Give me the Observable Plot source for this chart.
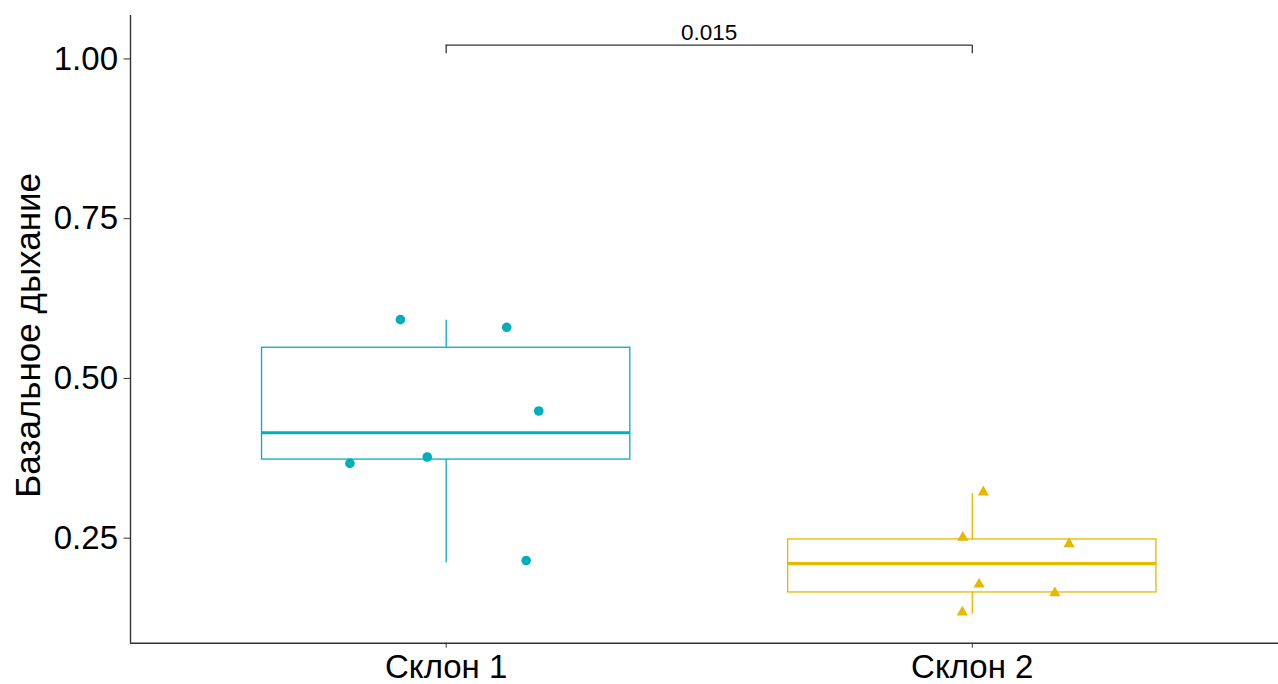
<!DOCTYPE html>
<html>
<head>
<meta charset="utf-8">
<script src="https://cdn.jsdelivr.net/npm/d3@7"></script>
<script src="https://cdn.jsdelivr.net/npm/@observablehq/plot@0.6"></script>
<style>
  html, body { margin: 0; padding: 0; background: #fff; }
  svg { display: block; }
</style>
</head>
<body>
<div id="chart"></div>
<script>
// ---- data ----
const groups = ["Склон 1", "Склон 2"];
const groupColors = ["#00AFBB", "#E7B800"];
const groupSymbols = ["circle", "triangle"];

// raw observations (values) and their horizontal jitter (in category units)
const slope1Values = [0.592, 0.580, 0.449, 0.377, 0.367, 0.215];
const slope1Jitter = [-0.087, 0.115, 0.176, -0.036, -0.183, 0.152];
const slope2Values = [0.322, 0.251, 0.241, 0.178, 0.164, 0.134];
const slope2Jitter = [0.021, -0.018, 0.184, 0.013, 0.157, -0.019];

// box statistics
const boxLower  = [0.211, 0.131];
const boxQ1     = [0.373, 0.165];
const boxMedian = [0.415, 0.210];
const boxQ3     = [0.548, 0.248];
const boxUpper  = [0.591, 0.320];

const yTicks = [0.25, 0.50, 0.75, 1.00];
const pValueLabel = "0.015";
const yTitle = "Базальное дыхание";

// ---- derived tables ----
const points = [
  ...slope1Values.map((v, i) => ({g: 0, x: 1 + slope1Jitter[i], y: v})),
  ...slope2Values.map((v, i) => ({g: 1, x: 2 + slope2Jitter[i], y: v}))
];
const boxes = groups.map((name, i) => ({
  g: i, x: i + 1, lo: boxLower[i], q1: boxQ1[i], med: boxMedian[i], q3: boxQ3[i], hi: boxUpper[i]
}));

const halfWidth = 0.35;
const xDomain = [0.4, 2.582];
const yDomain = [0.0856, 1.068];
const bracketY = 1.0216, bracketTickY = 1.008, pLabelY = 1.030;
const axisColor = "#333333";
const font = "'Liberation Sans', Arial, sans-serif";

const chart = Plot.plot({
  width: 1278,
  height: 684,
  marginLeft: 130,
  marginRight: 0,
  marginTop: 15,
  marginBottom: 41.3,
  style: {fontFamily: font, background: "#fff", color: "#000"},
  x: {type: "linear", domain: xDomain},
  y: {type: "linear", domain: yDomain},
  marks: [
    // whiskers
    Plot.ruleX(boxes, {x: "x", y1: "lo", y2: "q1", stroke: d => groupColors[d.g], strokeWidth: 1.3}),
    Plot.ruleX(boxes, {x: "x", y1: "q3", y2: "hi", stroke: d => groupColors[d.g], strokeWidth: 1.3}),
    // box
    Plot.rect(boxes, {x1: d => d.x - halfWidth, x2: d => d.x + halfWidth, y1: "q1", y2: "q3",
      fill: "white", fillOpacity: 0, stroke: d => groupColors[d.g], strokeWidth: 1.3}),
    // median
    Plot.ruleY(boxes, {x1: d => d.x - halfWidth, x2: d => d.x + halfWidth, y: "med",
      stroke: d => groupColors[d.g], strokeWidth: 3.2}),
    // points
    Plot.dot(points.filter(d => d.g === 0), {x: "x", y: "y", r: 4.8, fill: groupColors[0], stroke: "none", symbol: "circle"}),
    Plot.dot(points.filter(d => d.g === 1), {x: "x", y: "y", r: 4.2, fill: groupColors[1], stroke: "none", symbol: "triangle"}),
    // significance bracket
    Plot.ruleY([bracketY], {x1: 1, x2: 2, stroke: axisColor, strokeWidth: 1.3}),
    Plot.ruleX([1, 2], {y1: bracketTickY, y2: bracketY, stroke: axisColor, strokeWidth: 1.3}),
    Plot.text([pValueLabel], {x: 1.5, y: pLabelY, text: d => d, fontSize: 22.5, fill: "#000",
      textAnchor: "middle", lineAnchor: "bottom"}),
    // axes
    Plot.axisY({ticks: yTicks, tickFormat: d3.format(".2f"), tickSize: 6.5, tickPadding: 6,
      fontSize: 33, label: null, stroke: axisColor, color: "#000"}),
    Plot.axisX({ticks: [1, 2], tickFormat: d => groups[d - 1], tickSize: 5, tickPadding: 6,
      fontSize: 33, label: null, stroke: axisColor}),
    Plot.ruleX([xDomain[0]], {stroke: axisColor, strokeWidth: 1.4}),
    Plot.ruleY([yDomain[0]], {stroke: axisColor, strokeWidth: 1.4}),
    // y title
    Plot.text([yTitle], {frameAnchor: "left", text: d => d, rotate: -90, dx: -102, dy: 6,
      fontSize: 35, fill: "#000", textAnchor: "middle", lineAnchor: "middle"})
  ]
});
document.getElementById("chart").appendChild(chart);
</script>
</body>
</html>
